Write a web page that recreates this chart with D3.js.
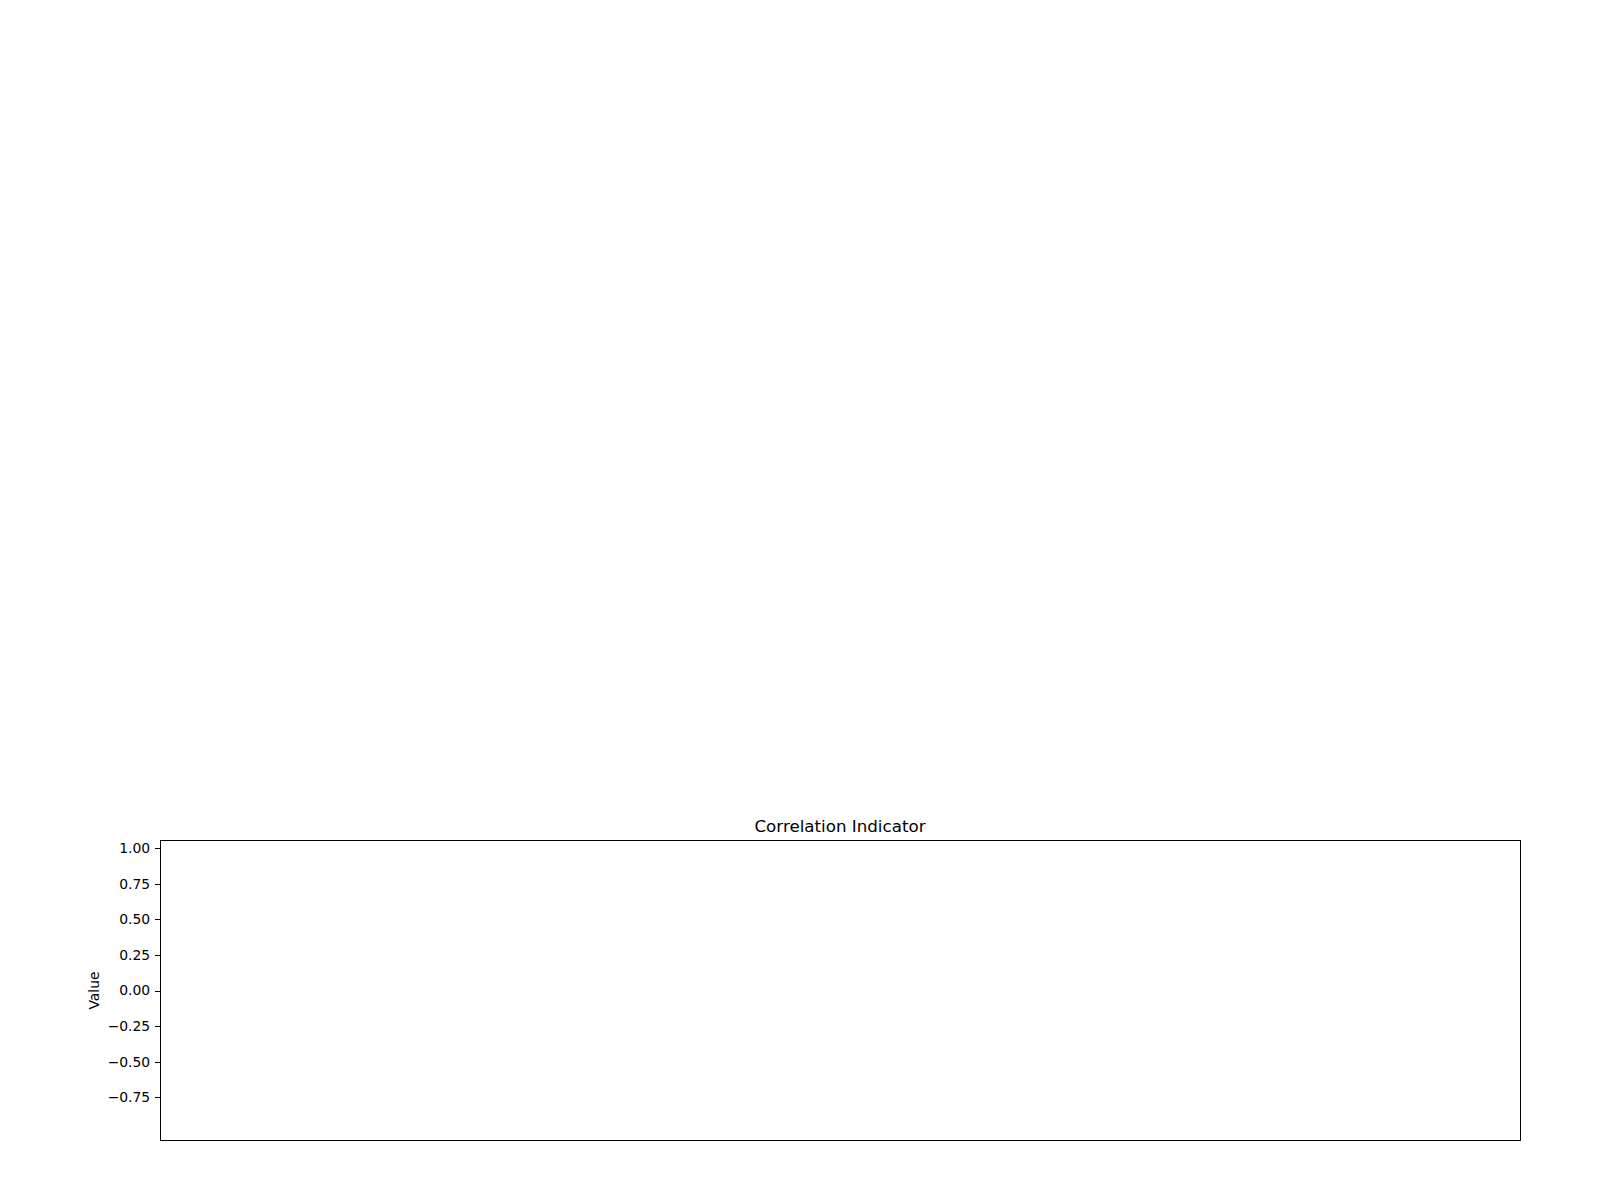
<!DOCTYPE html>
<html>
<head>
<meta charset="utf-8">
<script src="https://cdn.jsdelivr.net/npm/d3@7"></script>
<style>
  body { margin: 0; background: #fff; }
  text { font-family: "DejaVu Sans", sans-serif; fill: #000; }
</style>
</head>
<body>
<svg id="chart"></svg>
<script>
// Chart data (the reference axes is empty: no series drawn)
const title = "Correlation Indicator";
const yLabel = "Value";
const yDomain = [-1.05, 1.05];
const yTicks = [-0.75, -0.5, -0.25, 0, 0.25, 0.5, 0.75, 1.0];
const seriesValues = [];

const width = 1600;
const height = 1200;
const svg = d3.select("#chart").attr("width", width).attr("height", height);

const margin = { top: 841, right: 80, bottom: 60, left: 160 };
const innerW = width - margin.left - margin.right;
const innerH = height - margin.top - margin.bottom;

const g = svg.append("g").attr("transform", `translate(${margin.left},${margin.top})`);

const x = d3.scaleLinear().domain([0, 1]).range([0, innerW]);
const y = d3.scaleLinear().domain(yDomain).range([innerH, 0]);

// Y axis
const yAxis = g.append("g")
  .call(d3.axisLeft(y)
    .tickValues(yTicks)
    .tickFormat(d3.format(".2f"))
    .tickSizeInner(4.9)
    .tickSizeOuter(0)
    .tickPadding(4.9));
yAxis.select(".domain").remove();
yAxis.selectAll(".tick line")
  .attr("stroke", "#000")
  .attr("stroke-width", 1)
  .attr("shape-rendering", "crispEdges");
yAxis.selectAll(".tick text")
  .style("font-family", "'DejaVu Sans', sans-serif")
  .style("font-size", "13.9px")
  .attr("fill", "#000");

// Marks (none in the reference)
g.append("g").selectAll("circle")
  .data(seriesValues)
  .join("circle")
  .attr("cx", (d, i) => x(i / Math.max(1, seriesValues.length - 1)))
  .attr("cy", d => y(d))
  .attr("r", 3);

// Frame
g.append("rect")
  .attr("x", 0.5).attr("y", -0.5)
  .attr("width", innerW).attr("height", innerH + 1)
  .attr("fill", "none")
  .attr("stroke", "#000")
  .attr("stroke-width", 1.1)
  .attr("shape-rendering", "crispEdges");

// Title
g.append("text")
  .attr("x", innerW / 2)
  .attr("y", -9.5)
  .attr("text-anchor", "middle")
  .style("font-size", "16.7px")
  .text(title);

// Y label
svg.append("text")
  .attr("transform", `translate(99,${margin.top + innerH / 2}) rotate(-90)`)
  .attr("text-anchor", "middle")
  .style("font-size", "13.9px")
  .text(yLabel);
</script>
</body>
</html>
